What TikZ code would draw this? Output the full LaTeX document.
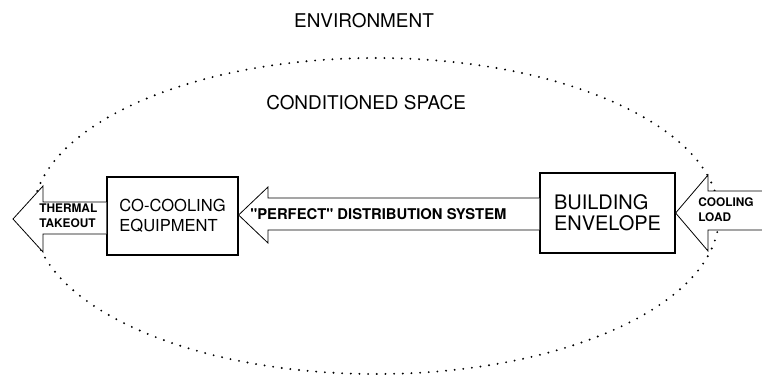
\documentclass[tikz,border=0pt]{standalone}
\usepackage{fontspec}
\setmainfont{TeX Gyre Heros}[Ligatures=TeXOff]
\begin{document}
\begin{tikzpicture}[x=0.75pt,y=-0.75pt,
  box/.style={draw, line width=0.9pt, fill=white, align=left, inner sep=0pt},
  blockarrow/.style={draw, line width=0.6pt, fill=white, line join=miter},
  dotline/.style={line width=1.6pt, line cap=round, dash pattern=on 0pt off 6.5pt},
  title/.style={font=\fontsize{14.2}{16}\selectfont},
  small/.style={font=\bfseries\fontsize{8.9}{11.2}\selectfont, align=left, inner sep=0pt}]
\useasboundingbox (0,0) rectangle (762,374);

% conditioned space boundary
\draw[dotline] (376,216) ellipse [x radius=257.25pt, y radius=118.5pt];

\node[title] (env) at (364,21) {ENVIRONMENT};
\node[title, anchor=west, inner sep=0pt] (space) at (266,103) {CONDITIONED SPACE};

% equipment and envelope blocks
\node[box, minimum width=98.25pt, minimum height=58.5pt,
      font=\fontsize{12.4}{14.6}\selectfont] (cc) at (172.5,216) {CO-COOLING\\EQUIPMENT};
\node[box, minimum width=101.25pt, minimum height=60pt,
      font=\fontsize{15}{15.8}\selectfont] (bld) at (607.5,213) {BUILDING\\ENVELOPE};

% block arrows
\draw[blockarrow] (cc.west |- 0,202) -- (43,202) -- (43,186) -- (13,219)
  -- (43,252) -- (43,234) -- (cc.west |- 0,234);
\draw[blockarrow] (bld.west |- 0,198) -- (268,198) -- (268,187) -- (cc.east |- 0,215)
  -- (268,243) -- (268,230) -- (bld.west |- 0,230);
\draw[blockarrow] (766,191) -- (708,191) -- (708,175) -- (bld.east |- 0,213)
  -- (708,251) -- (708,230) -- (766,230);

% arrow labels
\node[small, anchor=west] (thermal) at (39,216) {THERMAL\\TAKEOUT};
\node[font=\bfseries\fontsize{11.1}{12}\selectfont, anchor=west, inner sep=0pt] (dist) at (250,214) {"PERFECT" DISTRIBUTION SYSTEM};
\node[small, anchor=west] (load) at (698,210) {COOLING\\LOAD};
\end{tikzpicture}
\end{document}
